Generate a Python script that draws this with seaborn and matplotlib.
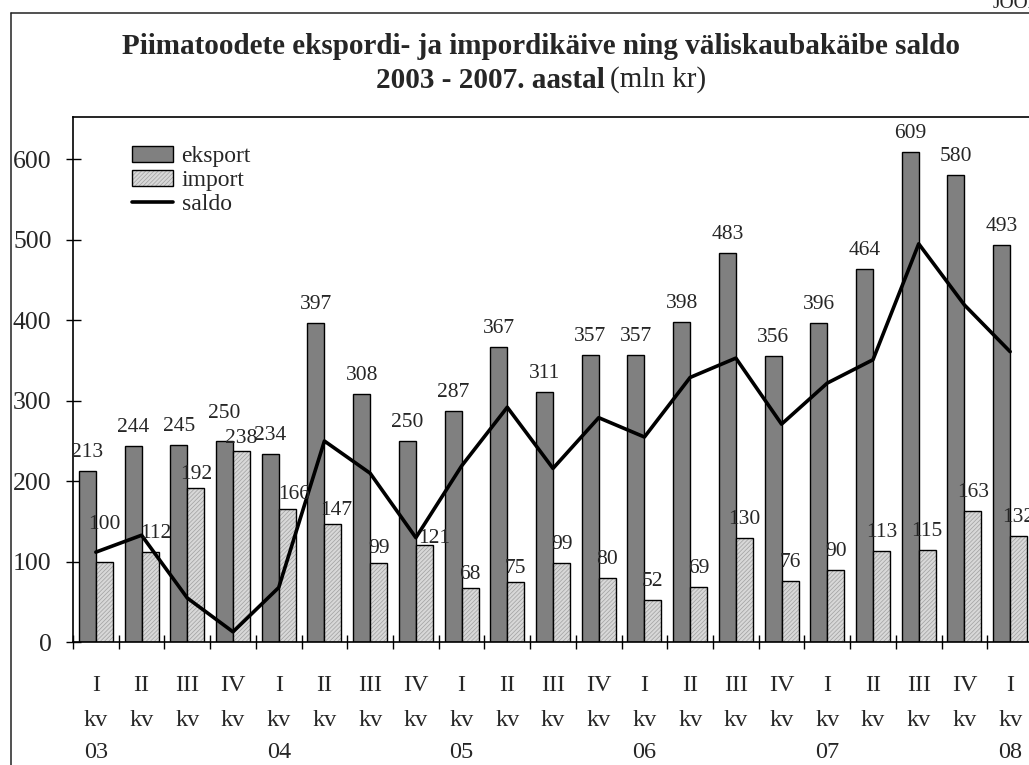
import numpy as np
import pandas as pd
import matplotlib
matplotlib.use("Agg")
import matplotlib.pyplot as plt
import seaborn as sns
from matplotlib.patches import Patch, Rectangle
from matplotlib.lines import Line2D

# data (mln kr), quarters I kv 2003 ... I kv 2008
quarters = ["I", "II", "III", "IV"] * 5 + ["I"]
years = ["03", "", "", "", "04", "", "", "", "05", "", "", "",
         "06", "", "", "", "07", "", "", "", "08"]
eksport = [213, 244, 245, 250, 234, 397, 308, 250, 287, 367, 311,
           357, 357, 398, 483, 356, 396, 464, 609, 580, 493]
imp = [100, 112, 192, 238, 166, 147, 99, 121, 68, 75, 99,
       80, 52, 69, 130, 76, 90, 113, 115, 163, 132]
saldo = [112, 133, 55, 13, 68, 250, 210, 130, 219, 292, 216,
         279, 255, 329, 353, 271, 322, 351, 495, 419, 361]

title1 = "Piimatoodete ekspordi- ja impordikäive ning väliskaubakäibe saldo"
title2_bold = "2003 - 2007. aastal"
title2_rest = "(mln kr)"

n = len(eksport)
df = pd.DataFrame({
    "kv": np.tile(np.arange(n), 2),
    "value": eksport + imp,
    "series": ["eksport"] * n + ["import"] * n,
})

sns.set_theme(style="ticks")
plt.rcParams["font.family"] = ["Liberation Serif", "DejaVu Serif"]
plt.rcParams["hatch.linewidth"] = 0.5

W, H = 1029, 765
fig = plt.figure(figsize=(W / 100, H / 100), dpi=100)
fig.patch.set_facecolor("white")
ax = fig.add_axes([73 / W, 1 - 642.3 / H, 960 / W, (642.3 - 117) / H])

sns.barplot(data=df, x="kv", y="value", hue="series",
            palette={"eksport": "#808080", "import": "#d8d8d8"},
            width=0.744, edgecolor="black", linewidth=1,
            saturation=1, legend=False, ax=ax)

# hatched import bars: grey hatch, black outline on top
for p in ax.containers[1]:
    p.set_hatch("////////")
    p.set_edgecolor("#a0a0a0")
    p.set_linewidth(0)
    ax.add_patch(Rectangle(p.get_xy(), p.get_width(), p.get_height(),
                           fill=False, ec="black", lw=1, zorder=p.get_zorder() + 0.1))

sns.lineplot(x=np.arange(n), y=saldo, color="black", lw=2.6, ax=ax, zorder=5)

ax.set_xlim(-0.5, n - 0.5)
ax.set_ylim(0, 652.5)
ax.set_xlabel("")
ax.set_ylabel("")

# value labels (a few were moved by hand in the original)
nudge_e = {3: (0, 9)}
nudge_i = {0: (0, 19), 1: (6, 0), 2: (0, -5), 3: (0, -6), 4: (7, -4), 5: (3, -5),
           6: (0, -4), 7: (10, -12), 8: (0, -5), 9: (0, -5)}
for cont, vals, nudge in [(ax.containers[0], eksport, nudge_e),
                          (ax.containers[1], imp, nudge_i)]:
    for i, (p, v) in enumerate(zip(cont, vals)):
        dx, dy = nudge.get(i, (0, 0))
        ax.annotate(str(v), xy=(p.get_x() + p.get_width() / 2, v),
                    xytext=(dx, 14 + dy), textcoords="offset pixels",
                    ha="center", va="baseline", fontsize=15.5, zorder=6)

# x axis: ticks between quarters, three label rows
ax.set_xticks(np.arange(n))
ax.set_xticklabels([])
ax.tick_params(axis="x", which="major", length=0)
ax.set_xticks(np.arange(n + 1) - 0.5, minor=True)
ax.tick_params(axis="x", which="minor", direction="inout", length=10, width=1, color="black")
for i in range(n):
    for txt, off in [(quarters[i], 48.4), ("kv", 83.7), (years[i], 116)]:
        ax.annotate(txt, xy=(i, 0), xycoords=("data", "axes fraction"),
                    xytext=(0, -off), textcoords="offset pixels",
                    ha="center", va="baseline", fontsize=17.5, annotation_clip=False)

ax.set_yticks(range(0, 601, 100))
ax.tick_params(axis="y", direction="inout", length=10.8, width=1, color="black",
               labelsize=18.5, pad=10)

for s in ax.spines.values():
    s.set_color("black")
    s.set_linewidth(1.2)

# legend
h1 = Patch(fc="#808080", ec="black", lw=1)
h2 = (Patch(fc="#d8d8d8", ec="#a0a0a0", hatch="////////", lw=0),
      Patch(fill=False, ec="black", lw=1))
h3 = Line2D([], [], color="black", lw=2.6)
fig.legend([h1, h2, h3], ["eksport", "import", "saldo"], loc="upper left",
           bbox_to_anchor=(131.7 / W, 1 - 146 / H), frameon=False, fontsize=17,
           handlelength=1.74, handleheight=0.64, handletextpad=0.37,
           labelspacing=0.12, borderpad=0, borderaxespad=0)

# titles
fig.text(541 / W, 1 - 46 / H, title1, ha="center", va="center",
         fontsize=21, fontweight="bold")
r = fig.canvas.get_renderer()
tb = fig.text(0, 1 - 80 / H, title2_bold, ha="left", va="center",
              fontsize=21, fontweight="bold")
tn = fig.text(0, 1 - 80 / H, title2_rest, ha="left", va="center", fontsize=21)
wb = tb.get_window_extent(r).width
wn = tn.get_window_extent(r).width
x0 = 541 - (wb + 5 + wn) / 2
tb.set_x(x0 / W)
tn.set_x((x0 + wb + 5) / W)
fig.text(993 / W, 1 - 8 / H, "JOONIS", ha="left", va="baseline", fontsize=14)

# outer frame of the page figure
fig.add_artist(Line2D([11 / W, 11 / W], [0, 1 - 12.5 / H], transform=fig.transFigure,
                      color="#222222", lw=1.1))
fig.add_artist(Line2D([11 / W, 1], [1 - 12.5 / H, 1 - 12.5 / H], transform=fig.transFigure,
                      color="#222222", lw=1.1))

fig.savefig("out.png", dpi=100, facecolor="white")
